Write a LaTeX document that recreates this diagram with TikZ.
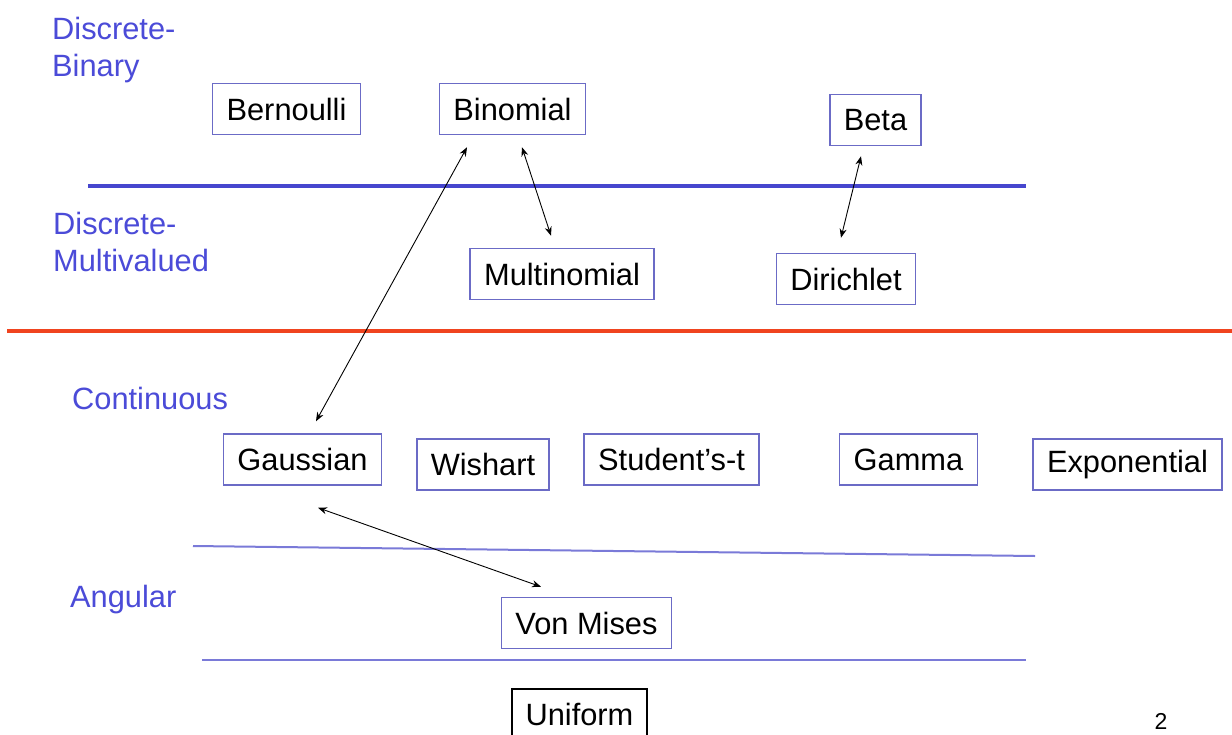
\documentclass[tikz,border=0pt]{standalone}
\usepackage{fontspec}
\setmainfont{Liberation Sans}
\usetikzlibrary{arrows.meta}

\definecolor{labelblue}{HTML}{4B4BD8}
\definecolor{boxblue}{HTML}{6B6BC6}
\definecolor{rulered}{HTML}{F0441F}
\definecolor{ruleblue}{HTML}{4646CE}
\definecolor{thinblue}{HTML}{7A7AD8}

\def\bigfont{\fontsize{30.8}{37}\selectfont}

\tikzset{
	dist/.style={draw=boxblue, line width=1.5pt, inner xsep=14pt, minimum height=51pt, font=\bigfont},
	kind/.style={text=labelblue, align=left, anchor=west, inner sep=0pt, font=\bigfont},
	link/.style={{Stealth[length=9pt,width=7pt]}-{Stealth[length=9pt,width=7pt]}, line width=0.9pt},
}

\begin{document}
\begin{tikzpicture}[x=1pt,y=-1pt]
	\useasboundingbox[fill=white] (0,0) rectangle (1232,734);
	
	\draw[ruleblue, line width=3.5pt] (88,186) -- (1026,186);
	\draw[rulered, line width=4.5pt] (7,331) -- (1232,331);
	\draw[thinblue, line width=2pt] (193,546) -- (1035,556);
	\draw[thinblue, line width=2pt] (202,660) -- (1026,660);
	
	\node[kind] (lblbin) at (52,50) {Discrete-\\Binary};
	\node[kind] (lblmulti) at (53,242) {Discrete-\\Multivalued};
	\node[kind] (lblcont) at (72,398.5) {Continuous};
	\node[kind] (lblang) at (70,600) {Angular};
	
	\node[dist] (bern) at (286.5,109) {Bernoulli};
	\node[dist] (binom) at (512.5,109) {Binomial};
	\node[dist] (beta) at (875.5,120) {Beta};
	\node[dist] (multi) at (562,274) {Multinomial};
	\node[dist] (diri) at (846,279) {Dirichlet};
	\node[dist] (gauss) at (302.5,459.5) {Gaussian};
	\node[dist] (wish) at (483,464.5) {Wishart};
	\node[dist] (stud) at (671.5,459.5) {Student’s-t};
	\node[dist] (gamma) at (908.5,459.5) {Gamma};
	\node[dist] (expo) at (1127.5,464.5) {Exponential};
	\node[dist] (vonm) at (586.5,623) {Von Mises};
	\node[dist, draw=black, line width=2pt] (unif) at (579.5,714.5) {Uniform};
	
	\draw[link] ([xshift=-45.5pt,yshift=-12pt]binom.south) -- ([xshift=13.5pt,yshift=12pt]gauss.north);
	\draw[link] ([xshift=9.5pt,yshift=-12pt]binom.south) -- ([xshift=-11pt,yshift=12pt]multi.north);
	\draw[link] ([xshift=-14.5pt,yshift=-10pt]beta.south) -- ([xshift=-5pt,yshift=15pt]diri.north);
	\draw[link] ([xshift=15.5pt,yshift=-22pt]gauss.south) -- ([xshift=-45.5pt,yshift=10pt]vonm.north);
	
	\node[font=\fontsize{23}{27}\selectfont] (pageno) at (1161,721) {2};
	
\end{tikzpicture}
\end{document}
